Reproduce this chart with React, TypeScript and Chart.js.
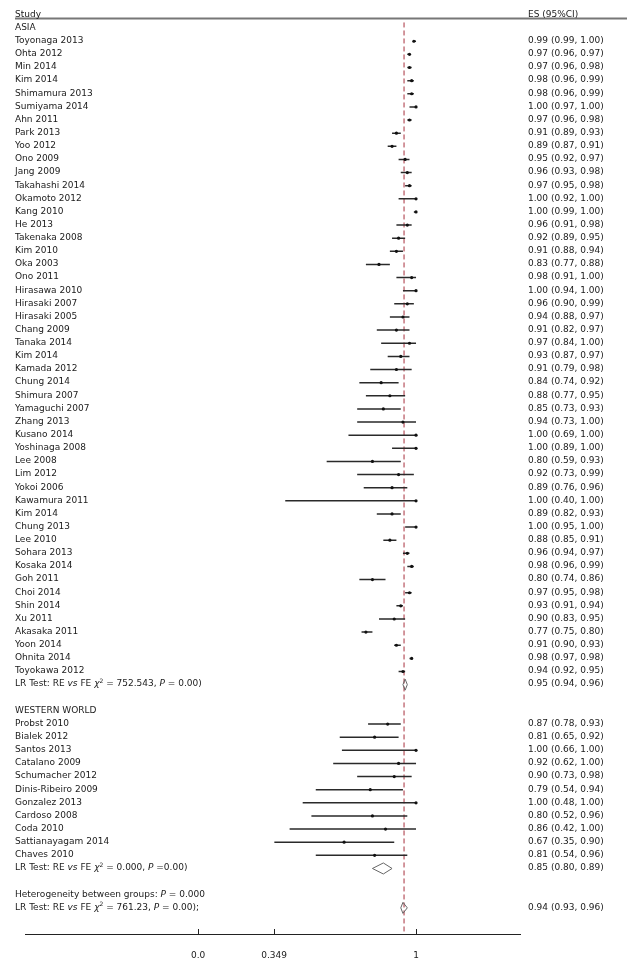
import React, { useEffect, useRef } from "react";
import { Chart, registerables } from "chart.js";

Chart.register(...registerables);

// ---------- DATA ----------
const asiaStudies = [
  "Toyonaga 2013", "Ohta 2012", "Min 2014", "Kim 2014", "Shimamura 2013", "Sumiyama 2014",
  "Ahn 2011", "Park 2013", "Yoo 2012", "Ono 2009", "Jang 2009", "Takahashi 2014",
  "Okamoto 2012", "Kang 2010", "He 2013", "Takenaka 2008", "Kim 2010", "Oka 2003",
  "Ono 2011", "Hirasawa 2010", "Hirasaki 2007", "Hirasaki 2005", "Chang 2009", "Tanaka 2014",
  "Kim 2014", "Kamada 2012", "Chung 2014", "Shimura 2007", "Yamaguchi 2007", "Zhang 2013",
  "Kusano 2014", "Yoshinaga 2008", "Lee 2008", "Lim 2012", "Yokoi 2006", "Kawamura 2011",
  "Kim 2014", "Chung 2013", "Lee 2010", "Sohara 2013", "Kosaka 2014", "Goh 2011",
  "Choi 2014", "Shin 2014", "Xu 2011", "Akasaka 2011", "Yoon 2014", "Ohnita 2014",
  "Toyokawa 2012",
];
const asiaES = [
  0.99, 0.97, 0.97, 0.98, 0.98, 1.00, 0.97, 0.91, 0.89, 0.95, 0.96, 0.97,
  1.00, 1.00, 0.96, 0.92, 0.91, 0.83, 0.98, 1.00, 0.96, 0.94, 0.91, 0.97,
  0.93, 0.91, 0.84, 0.88, 0.85, 0.94, 1.00, 1.00, 0.80, 0.92, 0.89, 1.00,
  0.89, 1.00, 0.88, 0.96, 0.98, 0.80, 0.97, 0.93, 0.90, 0.77, 0.91, 0.98,
  0.94,
];
const asiaLo = [
  0.99, 0.96, 0.96, 0.96, 0.96, 0.97, 0.96, 0.89, 0.87, 0.92, 0.93, 0.95,
  0.92, 0.99, 0.91, 0.89, 0.88, 0.77, 0.91, 0.94, 0.90, 0.88, 0.82, 0.84,
  0.87, 0.79, 0.74, 0.77, 0.73, 0.73, 0.69, 0.89, 0.59, 0.73, 0.76, 0.40,
  0.82, 0.95, 0.85, 0.94, 0.96, 0.74, 0.95, 0.91, 0.83, 0.75, 0.90, 0.97,
  0.92,
];
const asiaHi = [
  1.00, 0.97, 0.98, 0.99, 0.99, 1.00, 0.98, 0.93, 0.91, 0.97, 0.98, 0.98,
  1.00, 1.00, 0.98, 0.95, 0.94, 0.88, 1.00, 1.00, 0.99, 0.97, 0.97, 1.00,
  0.97, 0.98, 0.92, 0.95, 0.93, 1.00, 1.00, 1.00, 0.93, 0.99, 0.96, 1.00,
  0.93, 1.00, 0.91, 0.97, 0.99, 0.86, 0.98, 0.94, 0.95, 0.80, 0.93, 0.98,
  0.95,
];

const westStudies = [
  "Probst 2010", "Bialek 2012", "Santos 2013", "Catalano 2009", "Schumacher 2012",
  "Dinis-Ribeiro 2009", "Gonzalez 2013", "Cardoso 2008", "Coda 2010", "Sattianayagam 2014",
  "Chaves 2010",
];
const westES = [0.87, 0.81, 1.00, 0.92, 0.90, 0.79, 1.00, 0.80, 0.86, 0.67, 0.81];
const westLo = [0.78, 0.65, 0.66, 0.62, 0.73, 0.54, 0.48, 0.52, 0.42, 0.35, 0.54];
const westHi = [0.93, 0.92, 1.00, 1.00, 0.98, 0.94, 1.00, 0.96, 1.00, 0.90, 0.96];

const groupLabels = ["ASIA", "WESTERN WORLD"];
const summaryES = [0.95, 0.85, 0.94];
const summaryLo = [0.94, 0.80, 0.93];
const summaryHi = [0.96, 0.89, 0.96];
const summaryChi = ["752.543", "0.000", "761.23"];
const refLineValue = 0.945;

const xTicks = [0, 0.349, 1];
const xTickLabels = ["0.0", "0.349", "1"];

// ---------- LAYOUT ROWS ----------
const headerRow = -1;
const asiaHeaderRow = 0;
const asiaRows = asiaStudies.map((_, i) => i + 1);
const asiaSumRow = asiaStudies.length + 1;
const westHeaderRow = asiaSumRow + 2;
const westRows = westStudies.map((_, i) => westHeaderRow + 1 + i);
const westSumRow = westHeaderRow + westStudies.length + 1;
const hetRow = westSumRow + 2;
const overallRow = hetRow + 1;

const FONT = '"DejaVu Sans", Verdana, sans-serif';
const FS = 9;
const TEXT_COLOR = "#1a1a1a";
const LEFT_X = 15;
const RIGHT_X = 528;

const fmt = (es: number, lo: number, hi: number) =>
  `${es.toFixed(2)} (${lo.toFixed(2)}, ${hi.toFixed(2)})`;

type Part = { t: string; it?: boolean; sup?: boolean };

function drawRich(ctx: CanvasRenderingContext2D, parts: Part[], x: number, y: number) {
  let cx = x;
  for (const p of parts) {
    const size = p.sup ? 6 : FS;
    ctx.font = `${p.it ? "italic " : ""}${size}px ${FONT}`;
    ctx.fillText(p.t, cx, p.sup ? y - 3 : y);
    cx += ctx.measureText(p.t).width;
  }
}

function lrParts(chi: string, pText: string, tail: string): Part[] {
  return [
    { t: "LR Test: RE " },
    { t: "vs", it: true },
    { t: " FE " },
    { t: "χ", it: true },
    { t: "2", sup: true },
    { t: ` = ${chi}, ` },
    { t: "P", it: true },
    { t: pText + tail },
  ];
}

export default function App() {
  const ref = useRef<HTMLCanvasElement | null>(null);

  useEffect(() => {
    document.body.style.margin = "0";
    const canvas = ref.current;
    if (!canvas) return;

    const allES = [...asiaES, ...westES];
    const allLo = [...asiaLo, ...westLo];
    const allHi = [...asiaHi, ...westHi];
    const allRows = [...asiaRows, ...westRows];

    const ciData: any[] = [];
    allRows.forEach((r, i) => {
      ciData.push({ x: allLo[i], y: r }, { x: allHi[i], y: r }, { x: allHi[i], y: null });
    });
    const pointData = allRows.map((r, i) => ({ x: allES[i], y: r }));

    const sumRows = [asiaSumRow, westSumRow, overallRow];
    const dh = 0.42;
    const diamondData: any[] = [];
    sumRows.forEach((r, i) => {
      diamondData.push(
        { x: summaryLo[i], y: r },
        { x: summaryES[i], y: r - dh },
        { x: summaryHi[i], y: r },
        { x: summaryES[i], y: r + dh },
        { x: summaryLo[i], y: r },
        { x: summaryLo[i], y: null }
      );
    });

    const yMin = -1.836;
    const yMax = 68.99;

    const refData = [
      { x: refLineValue, y: -0.43 },
      { x: refLineValue, y: yMax },
    ];

    const textPlugin = {
      id: "forestText",
      afterDraw(chart: any) {
        const ctx = chart.ctx as CanvasRenderingContext2D;
        const ys = chart.scales.y;
        const xs = chart.scales.x;
        const py = (r: number) => ys.getPixelForValue(r) - 0.5;
        ctx.save();
        ctx.strokeStyle = "#777";
        ctx.lineWidth = 2;
        ctx.beginPath();
        ctx.moveTo(LEFT_X, 18.5);
        ctx.lineTo(627, 18.5);
        ctx.stroke();

        ctx.strokeStyle = "#222";
        ctx.lineWidth = 1;
        const axisY = chart.chartArea.bottom;
        xTicks.forEach((v) => {
          const px = Math.round(xs.getPixelForValue(v)) + 0.5;
          ctx.beginPath();
          ctx.moveTo(px, axisY);
          ctx.lineTo(px, axisY - 5);
          ctx.stroke();
        });

        ctx.fillStyle = TEXT_COLOR;
        ctx.textBaseline = "middle";
        ctx.textAlign = "left";
        ctx.font = `${FS}px ${FONT}`;
        ctx.fillText("Study", LEFT_X, py(headerRow));
        ctx.fillText("ES (95%CI)", RIGHT_X, py(headerRow));
        ctx.fillText(groupLabels[0], LEFT_X, py(asiaHeaderRow));
        ctx.fillText(groupLabels[1], LEFT_X, py(westHeaderRow));

        asiaStudies.forEach((s, i) => {
          ctx.font = `${FS}px ${FONT}`;
          ctx.fillText(s, LEFT_X, py(asiaRows[i]));
          ctx.fillText(fmt(asiaES[i], asiaLo[i], asiaHi[i]), RIGHT_X, py(asiaRows[i]));
        });
        westStudies.forEach((s, i) => {
          ctx.font = `${FS}px ${FONT}`;
          ctx.fillText(s, LEFT_X, py(westRows[i]));
          ctx.fillText(fmt(westES[i], westLo[i], westHi[i]), RIGHT_X, py(westRows[i]));
        });

        drawRich(ctx, lrParts(summaryChi[0], " = 0.00", ")"), LEFT_X, py(asiaSumRow));
        drawRich(ctx, lrParts(summaryChi[1], " =0.00", ")"), LEFT_X, py(westSumRow));
        drawRich(ctx, [{ t: "Heterogeneity between groups: " }, { t: "P", it: true }, { t: " = 0.000" }], LEFT_X, py(hetRow));
        drawRich(ctx, lrParts(summaryChi[2], " = 0.00", ");"), LEFT_X, py(overallRow));

        ctx.font = `${FS}px ${FONT}`;
        sumRows.forEach((r, i) => {
          ctx.fillText(fmt(summaryES[i], summaryLo[i], summaryHi[i]), RIGHT_X, py(r));
        });
        ctx.restore();
      },
    };

    const chart = new Chart(canvas, {
      type: "line",
      data: {
        datasets: [
          {
            label: "ref",
            data: refData,
            borderColor: "#a8303c",
            borderWidth: 1,
            borderDash: [5, 3],
            pointRadius: 0,
            fill: false,
            order: 5,
          },
          {
            label: "ci",
            data: ciData,
            borderColor: "#2a2a2a",
            borderWidth: 1.5,
            pointRadius: 0,
            spanGaps: false,
            fill: false,
            order: 3,
          },
          {
            label: "summary",
            data: diamondData,
            borderColor: "#666",
            borderWidth: 1,
            pointRadius: 0,
            spanGaps: false,
            fill: false,
            order: 2,
          },
          {
            type: "scatter",
            label: "es",
            data: pointData,
            pointStyle: "circle",
            pointRadius: 1.6,
            pointBackgroundColor: "#111",
            pointBorderWidth: 0,
            showLine: false,
            order: 1,
          } as any,
        ],
      },
      options: {
        responsive: false,
        animation: false,
        events: [],
        layout: { padding: { left: 25, right: 110, top: 0, bottom: 0 } },
        plugins: { legend: { display: false }, tooltip: { enabled: false } },
        elements: { line: { tension: 0 } },
        scales: {
          x: {
            type: "linear",
            min: -0.794,
            max: 1.477,
            position: "bottom",
            grid: { display: false },
            border: { display: true, color: "#222", width: 1 },
            afterBuildTicks: (axis: any) => {
              axis.ticks = xTicks.map((v) => ({ value: v }));
            },
            afterFit: (axis: any) => {
              axis.height = 27;
            },
            ticks: {
              autoSkip: false,
              maxRotation: 0,
              padding: 8,
              color: TEXT_COLOR,
              font: { family: FONT, size: FS },
              callback: (v: any) => {
                const idx = xTicks.findIndex((t) => Math.abs(t - Number(v)) < 1e-6);
                return idx >= 0 ? xTickLabels[idx] : "";
              },
            },
          },
          y: {
            type: "linear",
            display: false,
            reverse: true,
            min: yMin,
            max: yMax,
          },
        },
      },
      plugins: [textPlugin],
    });

    return () => chart.destroy();
  }, []);

  return (
    <div style={{ width: 630, height: 961, background: "#fff" }}>
      <canvas ref={ref} width={630} height={961} style={{ display: "block" }} />
    </div>
  );
}
